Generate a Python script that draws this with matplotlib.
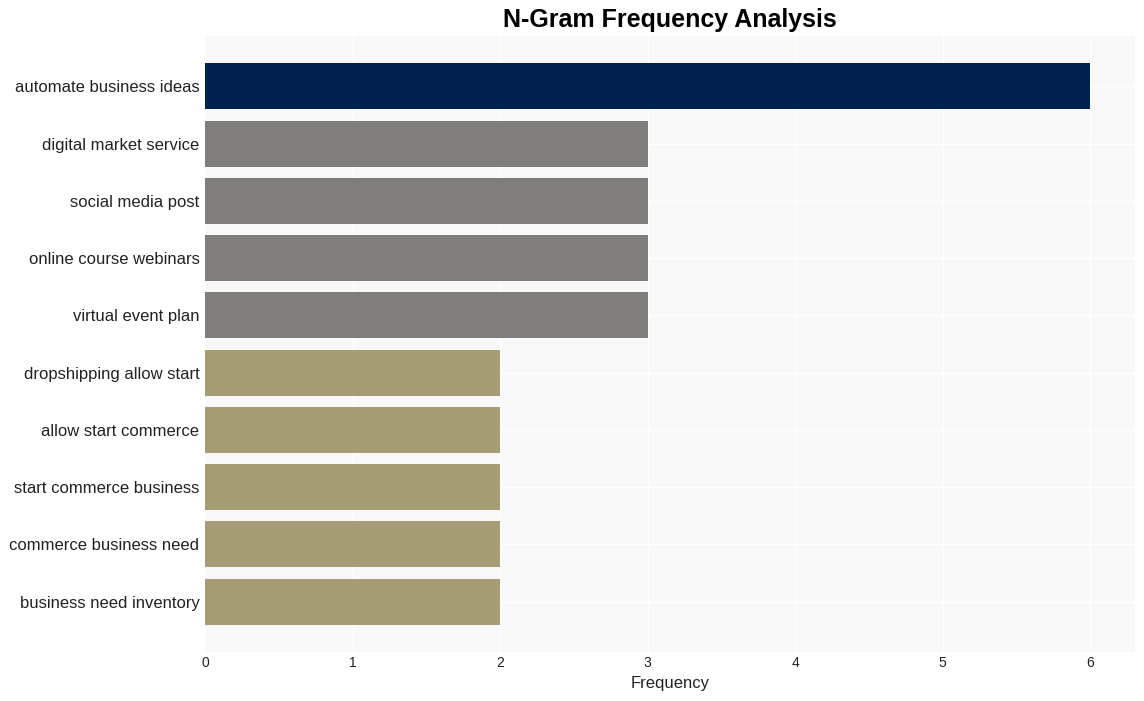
import matplotlib.pyplot as plt

labels = ["automate business ideas", "digital market service", "social media post",
          "online course webinars", "virtual event plan", "dropshipping allow start",
          "allow start commerce", "start commerce business", "commerce business need",
          "business need inventory"]
values = [6, 3, 3, 3, 3, 2, 2, 2, 2, 2]
colors = ["#00224e", "#7f7e7a", "#7f7e7a", "#7f7e7a", "#7f7e7a",
          "#a69d74", "#a69d74", "#a69d74", "#a69d74", "#a69d74"]


def main():
    plt.rcParams["font.family"] = ["Liberation Sans", "DejaVu Sans"]
    fig = plt.figure(figsize=(11.44, 7.01), dpi=100)
    ax = fig.add_axes([205 / 1144, 1 - 652 / 701, 930 / 1144, 616 / 701])
    ax.set_facecolor("#f8f8f8")
    y = list(range(len(labels)))
    ax.barh(y, values, height=0.8, color=colors, zorder=2)
    ax.set_yticks(y)
    ax.set_yticklabels(labels, fontsize=12, color="#222222")
    ax.set_ylim(9.88, -0.88)
    ax.set_xlim(0, 6.305)
    ax.set_xticks(range(7))
    ax.tick_params(axis="x", labelsize=10, colors="#222222", pad=3)
    ax.tick_params(axis="y", pad=4)
    ax.tick_params(length=0)
    ax.grid(True, color="white", linewidth=1, zorder=0)
    for s in ax.spines.values():
        s.set_visible(False)
    ax.set_xlabel("Frequency", fontsize=12, color="#222222", labelpad=4)
    fig.text(670 / 1144, 1 - 20 / 701, "N-Gram Frequency Analysis", ha="center",
             va="center", fontsize=18, fontweight="bold")
    fig.savefig("out.png", dpi=100)


main()
